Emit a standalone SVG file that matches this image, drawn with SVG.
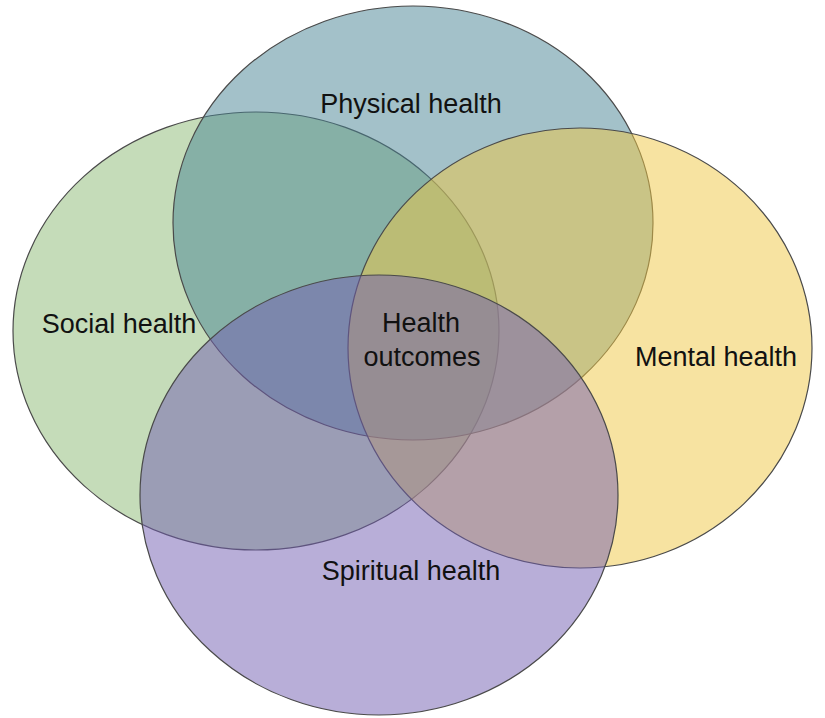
<svg xmlns="http://www.w3.org/2000/svg" width="825" height="718" viewBox="0 0 825 718">
<style>
.c{stroke:#4a4a4a;stroke-width:1.2;fill-opacity:0.5}
.t{font-family:"Liberation Sans",Arial,sans-serif;font-size:27px;fill:#111;text-anchor:middle}
</style>
<rect width="825" height="718" fill="#fff"/>
<g id="social"><ellipse class="c" cx="256" cy="331" rx="243" ry="219" fill="#8bb973"/></g>
<g id="physical"><ellipse class="c" cx="413" cy="223" rx="240" ry="217" fill="#478393"/></g>
<g id="mental"><ellipse class="c" cx="580" cy="348" rx="232" ry="220" fill="#efc743"/></g>
<g id="spiritual"><ellipse class="c" cx="379" cy="495" rx="239" ry="220" fill="#715db1"/></g>
<g id="labels">
<text class="t" x="411" y="113">Physical health</text>
<text class="t" x="119" y="333">Social health</text>
<text class="t" x="716" y="366">Mental health</text>
<text class="t" x="411" y="580">Spiritual health</text>
<text class="t" x="421" y="332">Health</text>
<text class="t" x="422" y="366">outcomes</text>
</g>
</svg>
